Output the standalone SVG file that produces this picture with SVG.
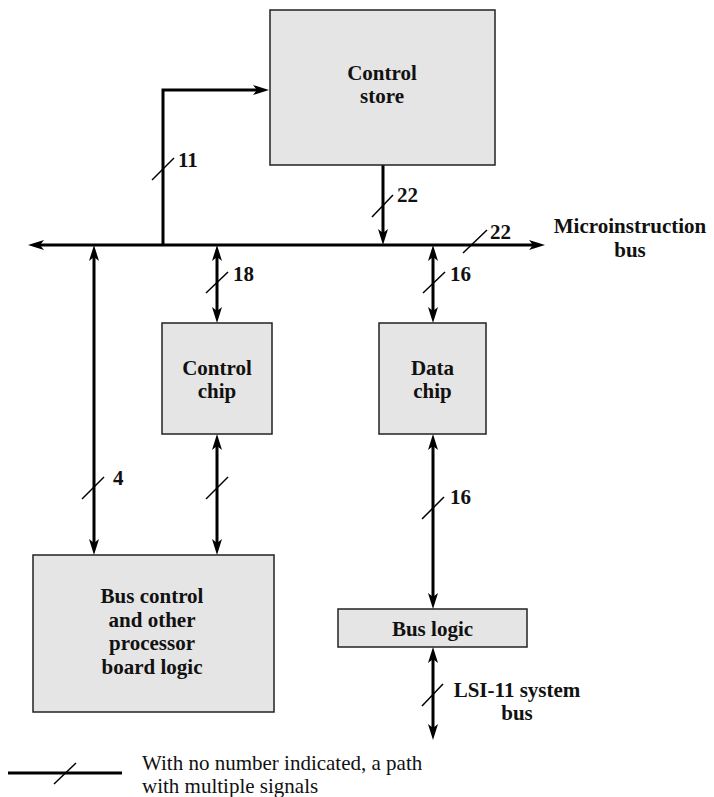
<svg xmlns="http://www.w3.org/2000/svg" width="714" height="797" viewBox="0 0 714 797">
<style>
.box{fill:#e5e5e5;stroke:#222;stroke-width:1.5}
.lbl{font-family:"Liberation Serif","Times New Roman",serif;font-weight:bold;font-size:21px;fill:#111}
.c{text-anchor:middle}
.reg{font-family:"Liberation Serif","Times New Roman",serif;font-size:21px;fill:#111}
.w{stroke:#000;stroke-width:3;fill:none}
.sl{stroke:#000;stroke-width:1.5}
</style>
<defs>
<marker id="ah" markerUnits="userSpaceOnUse" viewBox="0 0 16 10" markerWidth="16" markerHeight="10" refX="6" refY="5" orient="auto-start-reverse">
<path d="M0,0 L16,5 L0,10 L4,5 z" fill="#000"/>
</marker>
</defs>
<rect width="714" height="797" fill="#fff"/>
<g id="connectors">
<line class="w" x1="38" y1="245" x2="535" y2="245" marker-start="url(#ah)" marker-end="url(#ah)"/>
<polyline class="w" points="163,245 163,90 259,90" marker-end="url(#ah)"/>
<line class="w" x1="383" y1="165" x2="383" y2="235" marker-end="url(#ah)"/>
<line class="w" x1="94" y1="255" x2="94" y2="545" marker-start="url(#ah)" marker-end="url(#ah)"/>
<line class="w" x1="217" y1="255" x2="217" y2="313" marker-start="url(#ah)" marker-end="url(#ah)"/>
<line class="w" x1="217" y1="444" x2="217" y2="545" marker-start="url(#ah)" marker-end="url(#ah)"/>
<line class="w" x1="433" y1="255" x2="433" y2="313" marker-start="url(#ah)" marker-end="url(#ah)"/>
<line class="w" x1="433" y1="444" x2="433" y2="599" marker-start="url(#ah)" marker-end="url(#ah)"/>
<line class="w" x1="433" y1="657" x2="433" y2="730" marker-start="url(#ah)" marker-end="url(#ah)"/>
<line class="sl" x1="152" y1="180" x2="174" y2="158"/>
<line class="sl" x1="372" y1="217" x2="393" y2="195"/>
<line class="sl" x1="463" y1="253" x2="487" y2="230"/>
<line class="sl" x1="206" y1="293" x2="228" y2="272"/>
<line class="sl" x1="423" y1="293" x2="445" y2="272"/>
<line class="sl" x1="82" y1="499" x2="104" y2="477"/>
<line class="sl" x1="206" y1="499" x2="228" y2="477"/>
<line class="sl" x1="422" y1="519" x2="444" y2="497"/>
<line class="sl" x1="422" y1="706" x2="443" y2="684"/>
<text class="lbl" x="178" y="167">11</text>
<text class="lbl" x="397" y="202">22</text>
<text class="lbl" x="490" y="239">22</text>
<text class="lbl" x="233" y="281">18</text>
<text class="lbl" x="450" y="281">16</text>
<text class="lbl" x="113" y="485">4</text>
<text class="lbl" x="450" y="504">16</text>
<text class="lbl c" x="630" y="233">Microinstruction</text>
<text class="lbl c" x="630" y="257">bus</text>
<text class="lbl c" x="517" y="697">LSI-11 system</text>
<text class="lbl c" x="517" y="720">bus</text>
</g>
<g id="control-store">
<rect class="box" x="270" y="10" width="225" height="155"/>
<text class="lbl c" x="382" y="80">Control</text>
<text class="lbl c" x="382" y="103">store</text>
</g>
<g id="control-chip">
<rect class="box" x="162" y="323" width="110" height="111"/>
<text class="lbl c" x="217" y="375">Control</text>
<text class="lbl c" x="217" y="398">chip</text>
</g>
<g id="data-chip">
<rect class="box" x="379" y="323" width="107" height="111"/>
<text class="lbl c" x="432.5" y="375">Data</text>
<text class="lbl c" x="432.5" y="398">chip</text>
</g>
<g id="bus-control">
<rect class="box" x="33" y="555" width="241" height="157"/>
<text class="lbl c" x="152" y="603">Bus control</text>
<text class="lbl c" x="152" y="627">and other</text>
<text class="lbl c" x="152" y="650">processor</text>
<text class="lbl c" x="152" y="674">board logic</text>
</g>
<g id="bus-logic">
<rect class="box" x="338" y="609" width="189" height="38"/>
<text class="lbl c" x="432.5" y="636">Bus logic</text>
</g>
<g id="legend">
<line class="w" x1="8" y1="773" x2="122" y2="773"/>
<line class="sl" x1="54" y1="784" x2="76" y2="763"/>
<text class="reg" x="142" y="770">With no number indicated, a path</text>
<text class="reg" x="142" y="793">with multiple signals</text>
</g>
</svg>
